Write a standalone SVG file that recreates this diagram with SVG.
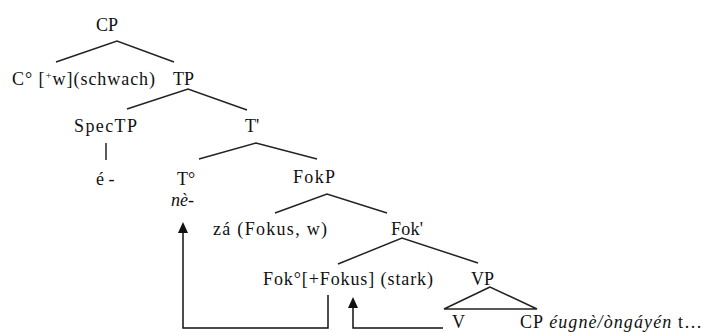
<svg xmlns="http://www.w3.org/2000/svg" width="705" height="332" viewBox="0 0 705 332">
<style>
.t{font-size:18px;fill:#111}
.it{font-style:italic}
.br{stroke:#222;stroke-width:1.5;fill:none}
.conn{stroke:#111;stroke-width:1.5;fill:none}
</style>
<defs>
<marker id="ah" markerWidth="11" markerHeight="10" refX="8" refY="5" orient="auto" markerUnits="userSpaceOnUse" viewBox="0 0 11 10">
<path d="M0,0 L11,5 L0,10 Z" fill="#111"/>
</marker>
</defs>
<rect width="705" height="332" fill="#fff"/>
<g id="branches">
<path class="br" d="M56,62 L117,41 L174,62"/>
<path class="br" d="M127,109 L188,89 L247,110"/>
<path class="br" d="M106,143 L106,160"/>
<path class="br" d="M199,159 L256,143 L317,159"/>
<path class="br" d="M275,213 L327,194 L387,213"/>
<path class="br" d="M338,264 L402,238 L478,263"/>
<path class="br" d="M490,287 L444,309 L537,309 Z"/>
</g>
<g class="t" font-family="Liberation Serif, DejaVu Serif, serif">
<g id="n-cp"><text x="96" y="31">CP</text></g>
<g id="n-c"><text x="12" y="85" textLength="143" lengthAdjust="spacing">C° [<tspan font-size="11" dy="-6">+</tspan><tspan dy="6">w](schwach)</tspan></text></g>
<g id="n-tp"><text x="173" y="85">TP</text></g>
<g id="n-spectp"><text x="74" y="132" textLength="63" lengthAdjust="spacing">SpecTP</text></g>
<g id="n-tbar"><text x="245" y="132">T'</text></g>
<g id="n-e"><text x="96" y="185">é -</text></g>
<g id="n-t"><text x="177" y="185">T°</text><text class="it" x="171" y="206">nè-</text></g>
<g id="n-fokp"><text x="293" y="183" textLength="42" lengthAdjust="spacing">FokP</text></g>
<g id="n-za"><text x="213" y="235" textLength="114" lengthAdjust="spacing">zá (Fokus, w)</text></g>
<g id="n-fokbar"><text x="391" y="235" textLength="32" lengthAdjust="spacing">Fok'</text></g>
<g id="n-fok"><text x="263" y="285" textLength="170" lengthAdjust="spacing">Fok°[+Fokus] (stark)</text></g>
<g id="n-vp"><text x="471" y="285">VP</text></g>
<g id="n-v"><text x="452" y="328">V</text></g>
<g id="n-cp2"><text x="520" y="328" textLength="182" lengthAdjust="spacing">CP <tspan class="it">éugnè/òngáyén</tspan> t…</text></g>
</g>
<g id="connectors">
<path class="conn" d="M328,295 V328 H183 V225" marker-end="url(#ah)"/>
<path class="conn" d="M443,328 H353 V300" marker-end="url(#ah)"/>
</g>
</svg>
